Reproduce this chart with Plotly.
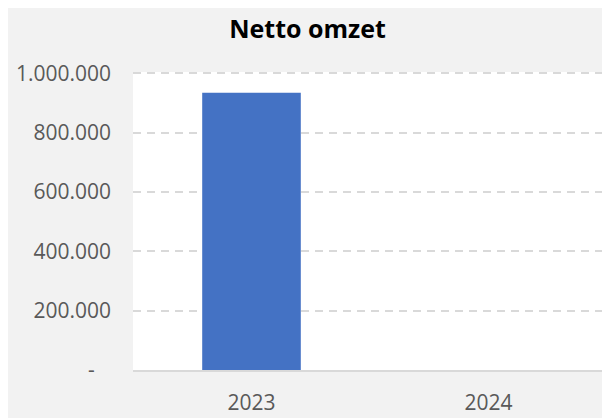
import plotly.graph_objects as go

categories = ["2023", "2024"]
values = [935000, 0]
tick_values = [0, 200000, 400000, 600000, 800000, 1000000]
tick_labels = ["-\u00a0\u00a0\u00a0", "200.000", "400.000", "600.000", "800.000", "1.000.000"]
title_text = "Netto omzet"

# The page places the figure 8px in from the top-left corner (body margin),
# which also provides the white border seen in the reference.
OFF = 8
W, H = 610 - OFF, 418 - OFF
L, R, T, B = 133 - OFF, 3, 72 - OFF, 48

fig = go.Figure()
fig.add_trace(go.Bar(
    x=categories, y=values,
    marker=dict(color="#4472c4", line=dict(width=0)),
    hoverinfo="x+y",
))

fig.update_layout(
    width=W, height=H,
    margin=dict(l=L, r=R, t=T, b=B, pad=0, autoexpand=False),
    paper_bgcolor="#f2f2f2",
    plot_bgcolor="white",
    showlegend=False,
    bargap=0.584,
    title=dict(
        text="<b>" + title_text + "</b>",
        x=(307.5 - OFF) / W, xref="container", xanchor="center",
        y=1 - (29 - OFF) / H, yref="container", yanchor="middle",
        font=dict(family="Open Sans", size=25, color="#000000"),
    ),
    font=dict(family="Open Sans", color="#595959"),
)

fig.update_xaxes(
    automargin=False,
    showgrid=False,
    showline=True, linecolor="#d9d9d9", linewidth=2,
    ticks="", ticklabelstandoff=13,
    tickfont=dict(family="Open Sans", size=21, color="#595959"),
    fixedrange=True,
)
fig.update_yaxes(
    automargin=False,
    range=[0, 1005000],
    tickvals=tick_values, ticktext=tick_labels,
    showgrid=True, gridcolor="#d9d9d9", gridwidth=2, griddash="8px,6px",
    zeroline=False, showline=False,
    ticks="", ticklabelstandoff=21,
    tickfont=dict(family="Open Sans", size=21, color="#595959"),
    fixedrange=True,
)

fig.write_html("out.html", config={"displayModeBar": False})
